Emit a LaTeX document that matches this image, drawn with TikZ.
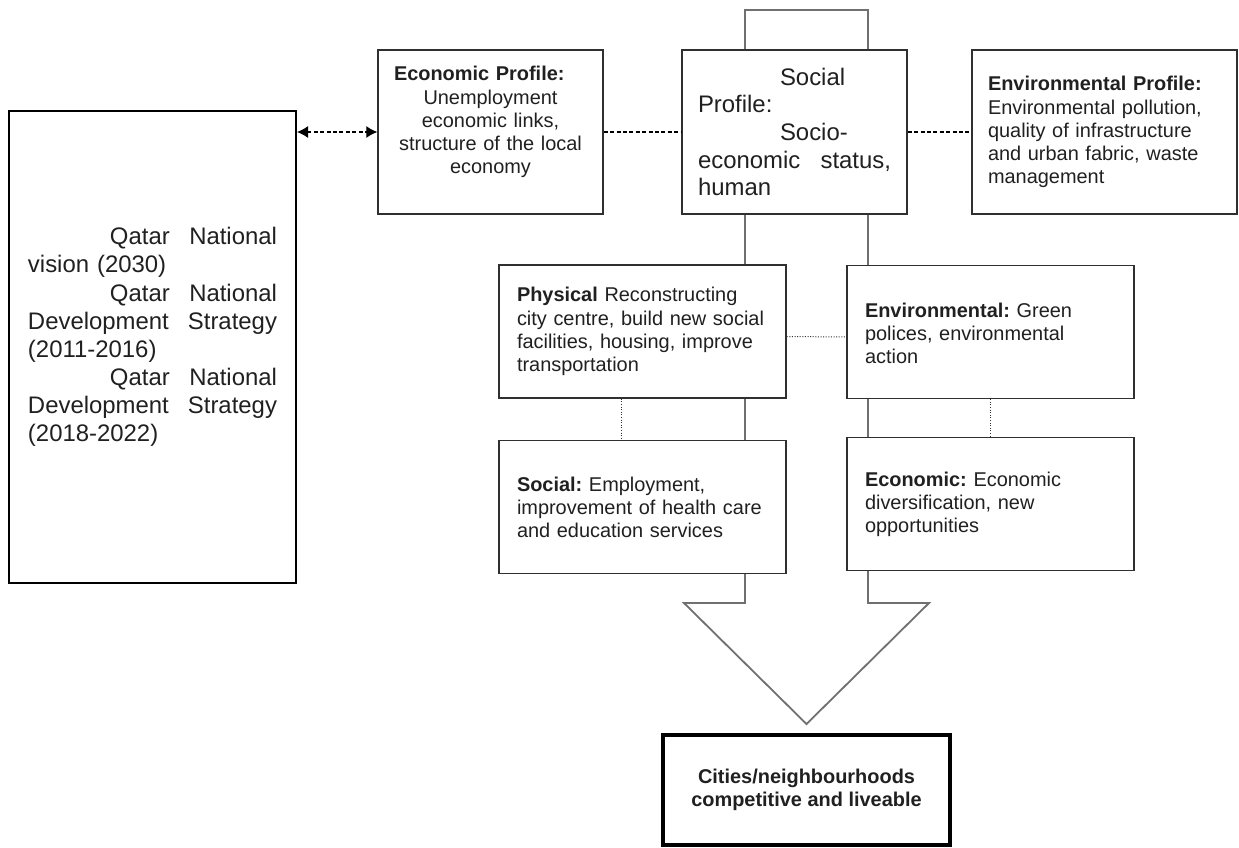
\documentclass[tikz,border=0pt]{standalone}
\usepackage{fontspec}
\setmainfont{Liberation Sans}
\frenchspacing
\usetikzlibrary{arrows.meta}
\definecolor{boxline}{HTML}{303030}
\definecolor{stemline}{HTML}{707070}
\definecolor{inktext}{HTML}{202020}
\tikzstyle{visionbox} = [
    rectangle,
    draw=black,
    fill=white,
    line width=1bp,
    minimum width=143.5bp,
    minimum height=236bp,
    text width=124.5bp,
    inner sep=0pt,
    text=inktext,
    font=\fontsize{12}{14.1}\selectfont
]
\tikzstyle{profile} = [
    rectangle,
    draw=boxline,
    fill=white,
    line width=0.7bp,
    minimum height=82bp,
    inner sep=0pt,
    text=inktext,
    font=\fontsize{10}{11.6}\selectfont
]
\tikzstyle{pillar} = [
    rectangle,
    draw=boxline,
    fill=white,
    line width=0.7bp,
    minimum width=143.5bp,
    minimum height=66.5bp,
    text width=125.5bp,
    inner sep=0pt,
    align=left,
    text=inktext,
    font=\fontsize{10}{11.6}\selectfont
]
\tikzstyle{goal} = [
    rectangle,
    draw=black,
    fill=white,
    line width=1.8bp,
    minimum width=143.5bp,
    minimum height=55bp,
    align=center,
    text=inktext,
    font=\fontsize{10}{11.6}\selectfont\bfseries
]
\tikzstyle{bigarrow} = [draw=stemline, line width=0.9bp, fill=white]
\tikzstyle{dashline} = [draw=black, line width=0.6bp, dash pattern=on 2bp off 1.2bp]
\tikzstyle{dotline} = [draw=boxline, line width=0.5bp, dash pattern=on 0.5bp off 0.8bp]
\tikzstyle{biarrow} = [dashline, <->, >={Latex[length=5.5bp,width=6bp]}]

\begin{document}
\begin{tikzpicture}[x=0.5bp, y=-0.5bp]
\useasboundingbox (0,0) rectangle (1239,847);

% big arrow behind the boxes
\draw [bigarrow] (745,10) -- (868,10) -- (868,603) -- (929,603)
    -- (806.5,724) -- (684,603) -- (745,603) -- cycle;

\node (vision) [visionbox] at (152.5,347) {%
\hspace*{41bp}Qatar\hfill National\\
vision (2030)\\
\hspace*{41bp}Qatar\hfill National\\
Development\hfill Strategy\\
(2011-2016)\\
\hspace*{41bp}Qatar\hfill National\\
Development\hfill Strategy\\
(2018-2022)\par\vspace*{10bp}};

\node (econprofile) [profile, minimum width=112.5bp, text width=96.5bp]
    at (490.5,132) {%
\textbf{Economic Profile:}\par
\centering Unemployment\\ economic links,\\ structure of the local\\ economy\par
\vspace*{10bp}};

\node (socprofile) [profile, minimum width=112.5bp, text width=96.5bp,
    font=\fontsize{12}{13.9}\selectfont] at (794.5,132) {%
\hspace*{41bp}Social\\
Profile:\\
\hspace*{41bp}Socio-\\
economic\hfill status,\\
human};

\node (envprofile) [profile, minimum width=132.5bp, text width=116.5bp, align=left]
    at (1104.5,132) {%
\textbf{Environmental Profile:}\\ Environmental pollution,\\
quality of infrastructure\\ and urban fabric, waste\\ management};

\node (physical) [pillar] at (642.5,331.5)
{\textbf{Physical} Reconstructing\\ city centre, build new social\\
facilities, housing, improve\\ transportation};

\node (environmental) [pillar, text depth=22bp] at (990.5,332)
{\textbf{Environmental:} Green\\ polices, environmental\\ action};

\node (social) [pillar] at (642.5,507)
{\textbf{Social:} Employment,\\ improvement of health care\\ and education services};

\node (economic) [pillar] at (990.5,504)
{\textbf{Economic:} Economic\\ diversification, new\\ opportunities};

\node (cities) [goal] at (806.5,790)
{Cities/neighbourhoods\\ competitive and liveable};

\draw [biarrow] (vision.east |- econprofile.west) -- (econprofile.west);
\draw [dashline] (econprofile) -- (socprofile);
\draw [dashline] (socprofile) -- (envprofile);
\draw [dotline] ([yshift=-2.5bp]physical.east) -- ([yshift=-2.5bp]environmental.west);
\draw [dotline] ([xshift=-10.75bp]physical.south) -- ([xshift=-10.75bp]social.north);
\draw [dotline] (environmental.south) -- (economic.north);

\end{tikzpicture}
\end{document}
